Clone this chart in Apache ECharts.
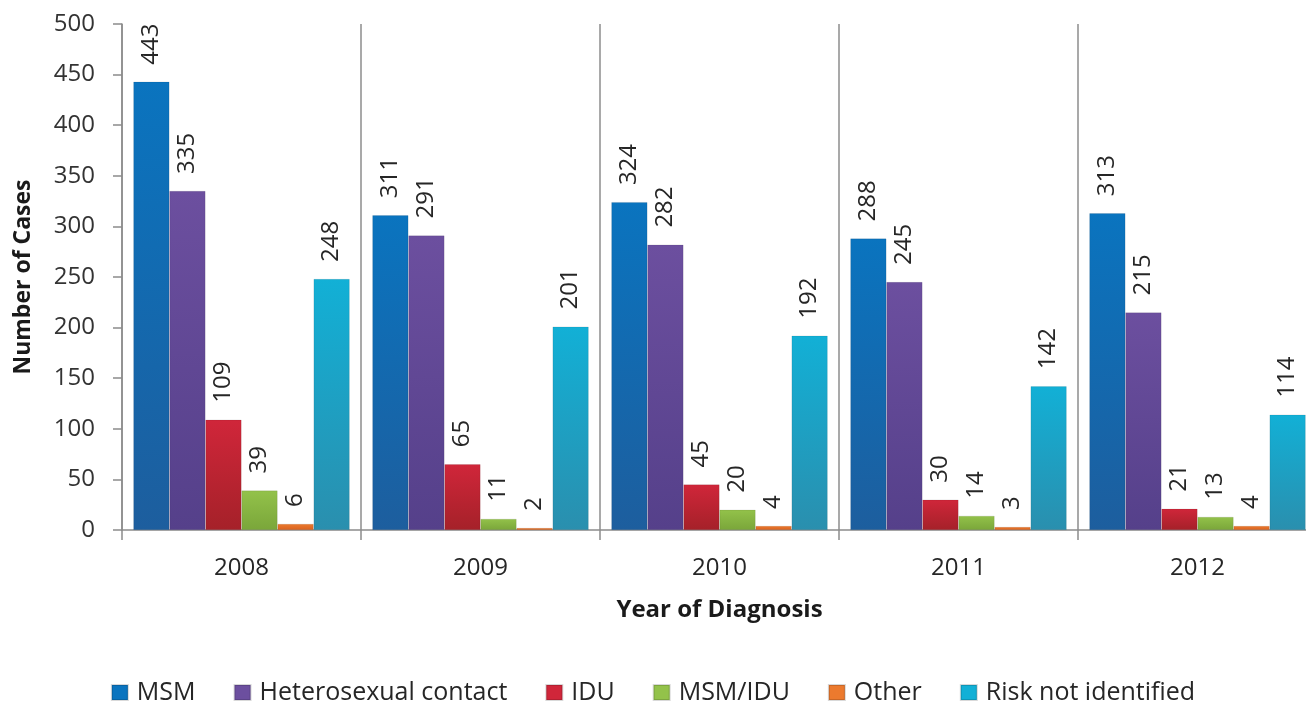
<!DOCTYPE html>
<html>
<head>
<meta charset="utf-8">
<script src="https://cdn.jsdelivr.net/npm/echarts@6/dist/echarts.min.js"></script>
<style>html,body{margin:0;padding:0;background:#fff}#c{width:1306px;height:702px}</style>
</head>
<body>
<div id="c"></div>
<script>
var years = ['2008', '2009', '2010', '2011', '2012'];
var seriesNames = ['MSM', 'Heterosexual contact', 'IDU', 'MSM/IDU', 'Other', 'Risk not identified'];
var msm = [443, 311, 324, 288, 313];
var hetero = [335, 291, 282, 245, 215];
var idu = [109, 65, 45, 30, 21];
var msmIdu = [39, 11, 20, 14, 13];
var other = [6, 2, 4, 3, 4];
var riskNot = [248, 201, 192, 142, 114];
var yTicks = [0, 50, 100, 150, 200, 250, 300, 350, 400, 450, 500];

var values = [msm, hetero, idu, msmIdu, other, riskNot];
var colorsTop = ['#0a74bf', '#6c4f9f', '#d0263a', '#93c24a', '#ec7a2e', '#12b0d6'];
var colorsBot = ['#1d5e9e', '#55408a', '#a52129', '#7aa63a', '#d9621f', '#2a8fae'];
var FONT = '"Open Sans", sans-serif';

var chart = echarts.init(document.getElementById('c'));
var series = seriesNames.map(function (n, i) {
  return {
    name: n,
    type: 'bar',
    data: values[i],
    barGap: '0%',
    barCategoryGap: '9.5%',
    itemStyle: {
      color: new echarts.graphic.LinearGradient(0, 0, 0, 1, [
        {offset: 0, color: colorsTop[i]}, {offset: 1, color: colorsBot[i]}
      ]),
      borderColor: 'rgba(0,0,0,0.15)',
      borderWidth: 0.6
    },
    label: {
      show: true,
      position: 'top',
      rotate: 90,
      align: 'left',
      verticalAlign: 'middle',
      distance: 17,
      fontSize: 24,
      fontFamily: FONT,
      color: '#262626'
    }
  };
});

chart.setOption({
  animation: false,
  backgroundColor: '#fff',
  color: colorsTop,
  grid: {left: 122, top: 24, right: -11, bottom: 172, containLabel: false, outerBoundsMode: 'none'},
  legend: {
    top: 675,
    left: 'center',
    itemWidth: 16,
    itemHeight: 15,
    itemGap: 38,
    icon: 'rect',
    textStyle: {fontSize: 25, fontFamily: FONT, color: '#262626', padding: [0, 0, 0, 4]},
    data: seriesNames.map(function (n, i) { return {name: n, itemStyle: {color: colorsTop[i]}}; })
  },
  xAxis: {
    type: 'category',
    data: years,
    name: 'Year of Diagnosis',
    nameLocation: 'middle',
    nameGap: 68,
    nameTextStyle: {fontSize: 24, fontWeight: 'bold', fontFamily: FONT, color: '#1a1a1a'},
    axisLine: {lineStyle: {color: '#8c8c8c', width: 1.5}},
    axisTick: {show: true, length: 10, lineStyle: {color: '#8c8c8c', width: 1.5}},
    axisLabel: {fontSize: 24, fontFamily: FONT, color: '#262626', margin: 26},
    splitLine: {show: true, lineStyle: {color: '#8c8c8c', width: 1.5}}
  },
  yAxis: {
    type: 'value',
    min: yTicks[0],
    max: yTicks[yTicks.length - 1],
    interval: 50,
    name: 'Number of Cases',
    nameLocation: 'middle',
    nameGap: 87,
    nameRotate: 90,
    nameTextStyle: {fontSize: 23, fontWeight: 'bold', fontFamily: FONT, color: '#1a1a1a'},
    axisLine: {show: true, lineStyle: {color: '#8c8c8c', width: 1.5}},
    axisTick: {show: true, length: 9, lineStyle: {color: '#8c8c8c', width: 1.5}},
    axisLabel: {fontSize: 24, fontFamily: FONT, color: '#333', margin: 27},
    splitLine: {show: false}
  },
  series: series
});
</script>
</body>
</html>
